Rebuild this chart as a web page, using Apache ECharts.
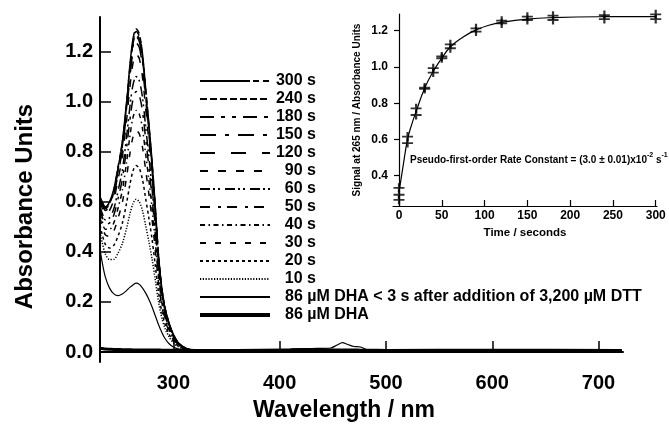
<!DOCTYPE html>
<html><head><meta charset="utf-8">
<script src="https://cdn.jsdelivr.net/npm/echarts@6/dist/echarts.min.js"></script>
<style>html,body{margin:0;padding:0;background:#fff}#c{width:669px;height:427px}</style>
</head><body><div id="c"></div>
<script>
// ---- Main spectra data (wavelength in nm, absorbance units) ----
const wavelengthsUV = [231,233,236,240,244,248,252,256,259,262,265,268,271,274,277,280,283,286,289,292,296,300,305,312,320,335,360,722];
const abs300 = [0.62,0.60,0.58,0.60,0.65,0.74,0.84,1.00,1.14,1.25,1.29,1.27,1.19,1.05,0.91,0.76,0.58,0.39,0.26,0.18,0.115,0.07,0.035,0.014,0.006,0.003,0.002,0.002];
const abs240 = [0.618,0.598,0.577,0.597,0.646,0.735,0.834,0.992,1.131,1.240,1.280,1.260,1.181,1.042,0.903,0.754,0.576,0.387,0.258,0.179,0.114,0.070,0.035,0.014,0.006,0.003,0.002,0.002];
const abs180 = [0.616,0.595,0.574,0.593,0.642,0.730,0.828,0.985,1.122,1.230,1.270,1.250,1.171,1.034,0.896,0.748,0.571,0.384,0.256,0.178,0.113,0.069,0.035,0.014,0.006,0.003,0.002,0.002];
const abs150 = [0.614,0.593,0.572,0.590,0.638,0.725,0.822,0.977,1.114,1.221,1.260,1.240,1.162,1.026,0.889,0.743,0.567,0.382,0.255,0.176,0.113,0.069,0.034,0.014,0.006,0.003,0.002,0.002];
const abs120 = [0.609,0.587,0.565,0.581,0.627,0.712,0.807,0.959,1.092,1.197,1.235,1.216,1.140,1.006,0.872,0.729,0.557,0.375,0.250,0.173,0.111,0.067,0.034,0.014,0.006,0.003,0.002,0.002];
const abs90  = [0.599,0.576,0.552,0.566,0.609,0.689,0.780,0.925,1.053,1.153,1.190,1.171,1.097,0.969,0.841,0.703,0.537,0.362,0.242,0.168,0.107,0.065,0.033,0.013,0.006,0.003,0.002,0.002];
const abs60  = [0.581,0.555,0.528,0.536,0.572,0.644,0.726,0.859,0.975,1.066,1.100,1.083,1.015,0.898,0.779,0.652,0.499,0.338,0.226,0.157,0.100,0.061,0.031,0.013,0.006,0.003,0.002,0.002];
const abs50  = [0.568,0.541,0.511,0.515,0.547,0.613,0.690,0.814,0.923,1.008,1.040,1.024,0.960,0.850,0.738,0.617,0.473,0.321,0.216,0.149,0.095,0.058,0.029,0.012,0.006,0.003,0.003,0.002];
const abs40  = [0.553,0.523,0.490,0.490,0.516,0.575,0.645,0.758,0.858,0.936,0.965,0.950,0.891,0.789,0.686,0.574,0.441,0.300,0.202,0.140,0.089,0.054,0.028,0.012,0.005,0.003,0.003,0.002];
const abs30  = [0.536,0.504,0.468,0.462,0.483,0.535,0.597,0.699,0.788,0.858,0.885,0.871,0.817,0.725,0.631,0.529,0.406,0.278,0.188,0.130,0.082,0.050,0.026,0.011,0.005,0.003,0.003,0.002];
const abs20  = [0.507,0.471,0.430,0.415,0.426,0.463,0.514,0.595,0.666,0.723,0.745,0.733,0.688,0.612,0.534,0.449,0.346,0.240,0.163,0.113,0.071,0.043,0.023,0.010,0.005,0.004,0.003,0.002];
const abs10  = [0.479,0.439,0.392,0.369,0.370,0.395,0.433,0.494,0.549,0.592,0.610,0.600,0.564,0.504,0.441,0.371,0.289,0.202,0.139,0.096,0.060,0.037,0.020,0.009,0.005,0.004,0.003,0.003];

const wavelengthsFull = [231,233,236,240,244,248,252,256,259,262,265,268,271,274,277,280,283,286,289,292,296,300,305,312,320,335,360,405,412,430,448,454,459,464,470,476,484,500,600,722];
const absDTT = [0.41,0.36,0.30,0.255,0.232,0.225,0.232,0.245,0.258,0.268,0.275,0.27,0.255,0.235,0.21,0.18,0.145,0.11,0.08,0.055,0.033,0.02,0.012,0.007,0.005,0.004,0.004,0.005,0.013,0.014,0.016,0.028,0.037,0.030,0.022,0.020,0.007,0.005,0.005,0.004];
const absDHA = [0.015,0.014,0.012,0.011,0.010,0.010,0.009,0.009,0.009,0.008,0.008,0.008,0.008,0.008,0.008,0.008,0.008,0.008,0.007,0.007,0.007,0.007,0.007,0.007,0.006,0.006,0.006,0.008,0.008,0.009,0.008,0.008,0.008,0.008,0.008,0.007,0.007,0.006,0.007,0.006];

const timeLabels = ['300 s','240 s','180 s','150 s','120 s','90 s','60 s','50 s','40 s','30 s','20 s','10 s'];
const timeSpectra = [abs300,abs240,abs180,abs150,abs120,abs90,abs60,abs50,abs40,abs30,abs20,abs10];
const dttLabel = '86 µM DHA < 3 s after addition of 3,200 µM DTT';
const dhaLabel = '86 µM DHA';

// ---- Inset kinetics data ----
const kineticTimes  = [0,0,0,10,10,20,20,30,30,40,40,50,50,60,60,90,90,120,120,150,150,180,180,240,240,300,300];
const kineticSignal = [0.333,0.295,0.267,0.616,0.580,0.772,0.735,0.886,0.879,0.993,0.969,1.058,1.048,1.125,1.103,1.213,1.195,1.255,1.240,1.277,1.259,1.283,1.259,1.286,1.264,1.290,1.264];
const fitTimes  = [0,5,10,15,20,30,40,50,60,75,90,105,120,150,180,240,300];
const fitSignal = [0.31,0.46,0.60,0.685,0.754,0.883,0.975,1.048,1.11,1.165,1.204,1.23,1.246,1.264,1.272,1.277,1.278];

// ---- Tick labels ----
const waveTicks = [300,400,500,600,700];
const absTicks = [0.0,0.2,0.4,0.6,0.8,1.0,1.2];
const timeTicks = [0,50,100,150,200,250,300];
const signalTicks = [0.4,0.6,0.8,1.0,1.2];

// ---- Styles ----
const dashStyles = [[50,3,6,4,6,1],[7,3],[14,7,4,7,4,7],[16,9,4,9],[15,16],[8,10],[10,3,2,3,2,5],[10,8,3,6],[5,3.5,1.5,3.5],[6,9],[3,3],[1.2,1.6]];
const FONT = 'Liberation Sans, Arial, Helvetica, sans-serif';
const INK = '#000';

const pair = (xs, ys) => xs.map((x, i) => [x, ys[i]]);

const series = [];
timeLabels.forEach((name, i) => {
  series.push({
    name, type: 'line', xAxisIndex: 0, yAxisIndex: 0, symbol: 'none', smooth: 0.3,
    data: pair(wavelengthsUV, timeSpectra[i]),
    itemStyle: { color: INK },
    lineStyle: { color: INK, width: 1.5, type: dashStyles[i] }
  });
});
series.push({
  name: dttLabel, type: 'line', xAxisIndex: 0, yAxisIndex: 0, symbol: 'none', smooth: 0.3,
  data: pair(wavelengthsFull, absDTT), itemStyle: { color: INK },
  lineStyle: { color: INK, width: 1.2, type: 'solid' }
});
series.push({
  name: dhaLabel, type: 'line', xAxisIndex: 0, yAxisIndex: 0, symbol: 'none', smooth: 0.3,
  data: pair(wavelengthsFull, absDHA), itemStyle: { color: INK },
  lineStyle: { color: INK, width: 3, type: 'solid' }
});
series.push({
  name: 'fit', type: 'line', xAxisIndex: 1, yAxisIndex: 1, symbol: 'none', smooth: true,
  data: pair(fitTimes, fitSignal), lineStyle: { color: INK, width: 1.2 }
});
series.push({
  name: 'signal', type: 'scatter', xAxisIndex: 1, yAxisIndex: 1,
  symbol: 'path://M4,0h2v4h4v2h-4v4h-2v-4h-4v-2h4z', symbolSize: [11, 9],
  itemStyle: { color: INK }, data: pair(kineticTimes, kineticSignal), clip: false
});

const legendItems = timeLabels.map(n => ({ name: n }))
  .concat([{ name: dttLabel, lineStyle: { width: 1.8 } }, { name: dhaLabel, lineStyle: { width: 4 } }]);

const chart = echarts.init(document.getElementById('c'), null, { renderer: 'canvas' });
chart.setOption({
  animation: false,
  backgroundColor: '#fff',
  textStyle: { fontFamily: FONT, color: INK },
  grid: [
    { left: 100, top: 17, width: 523, height: 349 },
    { left: 393, top: 14, width: 264, height: 192 }
  ],
  xAxis: [
    { type: 'value', gridIndex: 0, min: 231, max: 723,
      axisLine: { lineStyle: { color: INK, width: 2 } },
      axisTick: { inside: true, length: 11, lineStyle: { color: INK, width: 1.5 }, customValues: waveTicks },
      axisLabel: { customValues: waveTicks, fontSize: 20, fontWeight: 'bold', color: INK, margin: 11, fontFamily: FONT },
      splitLine: { show: false },
      name: 'Wavelength / nm', nameLocation: 'middle', nameGap: 37,
      nameTextStyle: { fontSize: 23, fontWeight: 'bold', color: INK, fontFamily: FONT, padding: [0, 35, 0, 0] } },
    { type: 'value', gridIndex: 1, min: -7, max: 301.5,
      axisLine: { lineStyle: { color: INK, width: 1.2 } },
      axisTick: { inside: true, length: 6, lineStyle: { color: INK, width: 1.2 }, customValues: timeTicks },
      axisLabel: { customValues: timeTicks, fontSize: 12, fontWeight: 'bold', color: INK, margin: 4, fontFamily: FONT },
      splitLine: { show: false },
      name: 'Time / seconds', nameLocation: 'middle', nameGap: 21,
      nameTextStyle: { fontSize: 11.5, fontWeight: 'bold', color: INK, fontFamily: FONT } }
  ],
  yAxis: [
    { type: 'value', gridIndex: 0, min: -0.04, max: 1.338,
      axisLine: { show: true, lineStyle: { color: INK, width: 2 } },
      axisTick: { show: true, inside: true, length: 11, lineStyle: { color: INK, width: 1.5 }, customValues: absTicks },
      axisLabel: { customValues: absTicks, formatter: v => v.toFixed(1), fontSize: 20, fontWeight: 'bold', color: INK, margin: 7, fontFamily: FONT },
      splitLine: { show: false },
      name: 'Absorbance Units', nameLocation: 'middle', nameGap: 63,
      nameTextStyle: { fontSize: 24, fontWeight: 'bold', color: INK, fontFamily: FONT, padding: [0, 34, 0, 0] } },
    { type: 'value', gridIndex: 1, min: 0.233, max: 1.292,
      axisLine: { show: true, lineStyle: { color: INK, width: 1.2 } },
      axisTick: { show: true, inside: false, length: 5, lineStyle: { color: INK, width: 1.2 }, customValues: signalTicks },
      axisLabel: { customValues: signalTicks, formatter: v => v.toFixed(1), fontSize: 12, fontWeight: 'bold', color: INK, margin: 5, fontFamily: FONT },
      splitLine: { show: false },
      name: 'Signal at 265 nm / Absorbance Units', nameLocation: 'middle', nameGap: 31,
      nameTextStyle: { fontSize: 10, fontWeight: 'bold', color: INK, fontFamily: FONT } }
  ],
  legend: {
    data: legendItems,
    orient: 'vertical', left: 198, top: 73, padding: 0,
    itemWidth: 70, itemHeight: 12, itemGap: 2, selectedMode: false,
    itemStyle: { color: 'rgba(0,0,0,0)', borderColor: 'rgba(0,0,0,0)', borderWidth: 0, opacity: 0 },
    lineStyle: { color: INK, opacity: 1, width: 2 },
    formatter: name => (timeLabels.indexOf(name) >= 0 ? '{r|' + name + '}' : '{l|' + name + '}'),
    textStyle: {
      fontSize: 16, fontWeight: 'bold', color: INK, fontFamily: FONT, lineHeight: 16,
      rich: {
        r: { width: 41, align: 'right', fontSize: 16, fontWeight: 'bold', color: INK, fontFamily: FONT, lineHeight: 16 },
        l: { padding: [0, 0, 0, 10], fontSize: 16, fontWeight: 'bold', color: INK, fontFamily: FONT, lineHeight: 16 }
      }
    }
  },
  graphic: [{
    type: 'text', left: 410, top: 152, silent: true,
    style: {
      text: '{a|Pseudo-first-order Rate Constant = (3.0 ± 0.01)x10}{s|-2}{a| s}{s|-1}',
      fill: INK,
      rich: {
        a: { fontSize: 10, fontWeight: 'bold', fontFamily: FONT, fill: INK, lineHeight: 13, verticalAlign: 'bottom' },
        s: { fontSize: 7, fontWeight: 'bold', fontFamily: FONT, fill: INK, lineHeight: 8, verticalAlign: 'top' }
      }
    }
  }],
  series
});
</script></body></html>
